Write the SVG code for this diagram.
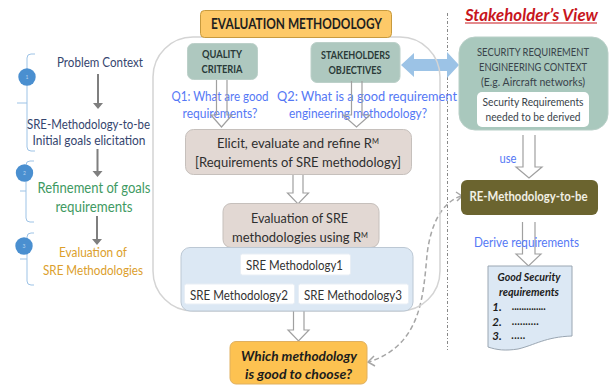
<svg xmlns="http://www.w3.org/2000/svg" width="613" height="388" viewBox="0 0 613 388">
<style>
text{font-family:Lato,"Liberation Sans",sans-serif;text-anchor:middle}
.br{fill:none;stroke:#9dc3e6;stroke-width:1}
.c{fill:#4a8fd0}
.n{font-size:5px;fill:#b8d4ee}
.ga{stroke:#7f7f7f;stroke-width:2;fill:none}
.gh{fill:#7f7f7f}
.ho{fill:none;stroke:#a0a0a0;stroke-width:1.200}
.q{font-size:13.500px;fill:#5578f5}
.d{font-size:14px;fill:#2f2f2f}
.sup{font-size:8px}
.m{font-size:12.500px;fill:#333}
.w{fill:#fff;stroke:#e8eef5}
.tl{font-size:11px;font-weight:700;fill:#2a3a38}
.sc{font-size:11px;fill:#39434a}
.b{font-weight:700;font-style:italic;fill:#1c1c1c}
</style>
<g id="connectors">
<path class="ga" d="M98 74V104M97.500 149V172M97 216V240"/>
<path class="gh" d="M93 103L98 109L103 103ZM92.500 171L97.500 177L102.500 171ZM92 239L97 245L102 239Z"/>
<path d="M447.500 13V350" fill="none" stroke="#888" stroke-width="1" stroke-dasharray="3 2 1 2"/>
<path d="M461 196C440 203 430 228 427 255C423 300 420 345 369 362" fill="none" stroke="#a6a6a6" stroke-width="1.500" stroke-dasharray="5 3"/>
<path d="M456 192L462 196L457 201M374 356L368 362L375 366" fill="none" stroke="#a6a6a6" stroke-width="1.500"/>
<path d="M401 65L414 53V59H447V52L459 65L447 78V71H414V77Z" fill="#9cc3e6"/>
</g>
<g id="steps">
<path class="br" d="M35 54H31Q27 54 27 58V147Q27 151 31 151H35M27 103H17"/>
<circle class="c" cx="27" cy="77" r="8.700"/><text class="n" x="27" y="79">1</text>
<path class="br" d="M34 161H30Q26 161 26 165V218Q26 222 30 222H34M26 191H20"/>
<circle class="c" cx="24.500" cy="173" r="8.700"/><text class="n" x="24.500" y="175">2</text>
<path class="br" d="M34 233H31Q27 233 27 237V281Q27 285 31 285H34M27 259H20"/>
<circle class="c" cx="24" cy="246" r="8.700"/><text class="n" x="24" y="248">3</text>
</g>
<g id="problem-context"><text x="100" y="67" font-size="12.500" fill="#35456e" textLength="86" lengthAdjust="spacingAndGlyphs">Problem Context</text></g>
<g id="initial-goals"><text x="88.500" y="129" font-size="12.500" fill="#35456e" textLength="123" lengthAdjust="spacingAndGlyphs">SRE-Methodology-to-be</text><text x="89" y="145" font-size="12.500" fill="#35456e" textLength="113" lengthAdjust="spacingAndGlyphs">Initial goals elicitation</text></g>
<g id="refinement"><text x="94" y="193" font-size="14.500" fill="#3f9a63" textLength="113" lengthAdjust="spacingAndGlyphs">Refinement of goals</text><text x="94" y="212" font-size="14.500" fill="#3f9a63" textLength="77" lengthAdjust="spacingAndGlyphs">requirements</text></g>
<g id="evaluation"><text x="93" y="257" font-size="12.500" fill="#dca02c" textLength="68" lengthAdjust="spacingAndGlyphs">Evaluation of</text><text x="93" y="275" font-size="12.500" fill="#dca02c" textLength="100" lengthAdjust="spacingAndGlyphs">SRE Methodologies</text></g>
<g id="outer-frame"><rect x="153" y="37" width="287" height="274" rx="40" fill="none" stroke="#d4d4d4" stroke-width="1.500"/></g>
<g id="title"><rect x="200.500" y="10.500" width="191" height="27" rx="4" fill="#fdc968" stroke="#c79a3e"/><text x="296.500" y="29" font-size="15" font-weight="700" fill="#1f1f1f" textLength="171" lengthAdjust="spacingAndGlyphs">EVALUATION METHODOLOGY</text></g>
<g id="quality-criteria"><rect x="187.500" y="43.500" width="70" height="36" rx="6" fill="#aec8bf" stroke="#bcd0c9"/><text class="tl" x="222" y="58" textLength="40" lengthAdjust="spacingAndGlyphs">QUALITY</text><text class="tl" x="222" y="73" textLength="41" lengthAdjust="spacingAndGlyphs">CRITERIA</text></g>
<g id="stakeholders-objectives"><rect x="311" y="42.500" width="89" height="40" rx="6" fill="#aec8bf" stroke="#bcd0c9"/><text class="tl" x="355.500" y="59" textLength="69" lengthAdjust="spacingAndGlyphs">STAKEHOLDERS</text><text class="tl" x="355" y="74" textLength="53" lengthAdjust="spacingAndGlyphs">OBJECTIVES</text></g>
<g id="q1"><text class="q" x="220" y="101" textLength="97" lengthAdjust="spacingAndGlyphs">Q1: What are good</text><text class="q" x="220" y="118" textLength="75" lengthAdjust="spacingAndGlyphs">requirements?</text></g>
<g id="q2"><text class="q" x="367" y="101" textLength="180" lengthAdjust="spacingAndGlyphs">Q2: What is a good requirement</text><text class="q" x="358" y="118" textLength="138" lengthAdjust="spacingAndGlyphs">engineering methodology?</text></g>
<g id="hollow-arrows">
<path class="ho" d="M216.500 80V115H211L221.500 127L232 115H227V80"/>
<path class="ho" d="M351.500 81V115H343L356.500 127L370 115H362V81"/>
<path class="ho" d="M293 175V193H287.500L298 204L308.500 193H303V175"/>
<path class="ho" d="M293.500 311V330H288L298.500 341L309 330H304V311"/>
<path class="ho" d="M523 135V167H516L529 178L542 167H535V135"/>
<path class="ho" d="M522.500 222V254H516L528.500 266L541 254H535V222"/>
</g>
<g id="elicit"><rect x="185.500" y="129.500" width="226" height="45" rx="8" fill="#e2d8d3" stroke="#c6c0bc"/><text class="d" x="298" y="148" textLength="162" lengthAdjust="spacingAndGlyphs">Elicit, evaluate and refine R<tspan class="sup" dy="-4">M</tspan></text><text class="d" x="298" y="167" textLength="206" lengthAdjust="spacingAndGlyphs">[Requirements of SRE methodology]</text></g>
<g id="evaluation-of-sre"><rect x="223" y="203.500" width="156" height="44" rx="8" fill="#e2d8d3" stroke="#c6c0bc"/><text class="d" x="299.500" y="223" textLength="97" lengthAdjust="spacingAndGlyphs">Evaluation of SRE</text><text class="d" x="300" y="242" textLength="136" lengthAdjust="spacingAndGlyphs">methodologies using R<tspan class="sup" dy="-4">M</tspan></text></g>
<g id="methodologies">
<rect x="181" y="247.500" width="232" height="63.500" rx="9" fill="#dce8f4" stroke="#bcc8d4"/>
<rect class="w" x="240.500" y="254" width="110" height="21" rx="2"/><text class="m" x="294.500" y="270" textLength="97" lengthAdjust="spacingAndGlyphs">SRE Methodology1</text>
<rect class="w" x="184.500" y="284" width="110" height="20" rx="2"/><text class="m" x="239" y="299.500" textLength="98" lengthAdjust="spacingAndGlyphs">SRE Methodology2</text>
<rect class="w" x="298.500" y="284" width="110" height="20" rx="2"/><text class="m" x="353" y="300" textLength="98" lengthAdjust="spacingAndGlyphs">SRE Methodology3</text>
</g>
<g id="which-methodology"><rect x="230" y="341.500" width="137" height="42.500" rx="6" fill="#fdc251" stroke="#e0b060"/><text class="b" x="299" y="361" font-size="13.500" textLength="116" lengthAdjust="spacingAndGlyphs">Which methodology</text><text class="b" x="298.500" y="379" font-size="13.500" textLength="107" lengthAdjust="spacingAndGlyphs">is good to choose?</text></g>
<g id="stakeholders-view"><text x="531.500" y="21" font-size="17" font-weight="700" font-style="italic" fill="#c8161d" textLength="133" lengthAdjust="spacingAndGlyphs">Stakeholder’s View</text><path d="M465 23H597" stroke="#c8161d" stroke-width="1.200"/></g>
<g id="sre-context"><rect x="459" y="37" width="149" height="93" rx="16" fill="#a9c8bd" stroke="#b8cfc7"/>
<text class="sc" x="533" y="56" textLength="112" lengthAdjust="spacingAndGlyphs">SECURITY  REQUIREMENT</text><text class="sc" x="533" y="71" textLength="108" lengthAdjust="spacingAndGlyphs">ENGINEERING  CONTEXT</text><text class="sc" x="533" y="86" textLength="104" lengthAdjust="spacingAndGlyphs">(E.g. Aircraft networks)</text>
<rect x="477" y="92" width="112" height="35" rx="5" fill="#fff"/><text class="sc" x="533" y="106" textLength="101" lengthAdjust="spacingAndGlyphs">Security Requirements</text><text class="sc" x="533" y="121" textLength="95" lengthAdjust="spacingAndGlyphs">needed to be derived</text></g>
<g id="use-label"><text class="q" x="508" y="163" textLength="17" lengthAdjust="spacingAndGlyphs">use</text></g>
<g id="re-methodology"><rect x="461" y="180" width="137" height="35" rx="6" fill="#6b642f"/><text x="528.500" y="201" font-size="12.500" font-weight="700" fill="#f2f0e4" textLength="118" lengthAdjust="spacingAndGlyphs">RE-Methodology-to-be</text></g>
<g id="derive-label"><text class="q" x="526.500" y="246.500" textLength="105" lengthAdjust="spacingAndGlyphs">Derive requirements</text></g>
<g id="good-requirements"><path d="M488 266H572V336C545 337 535 345 518 349C505 351 497 350 488 347Z" fill="#dce8f4" stroke="#9aa6b2"/>
<text class="b" x="529" y="281" font-size="11" textLength="63" lengthAdjust="spacingAndGlyphs">Good Security</text><text class="b" x="529" y="296" font-size="11" textLength="60" lengthAdjust="spacingAndGlyphs">requirements</text>
<text class="b" x="497" y="311" font-size="11.500">1.</text><text class="b" x="497" y="326" font-size="11.500">2.</text><text class="b" x="497" y="340" font-size="11.500">3.</text>
<text class="b" x="529" y="310" font-size="10.500" textLength="34">..............</text><text class="b" x="525.500" y="325" font-size="10.500" textLength="27">..........</text><text class="b" x="518.500" y="339" font-size="10.500" textLength="14">.....</text></g>
</svg>
